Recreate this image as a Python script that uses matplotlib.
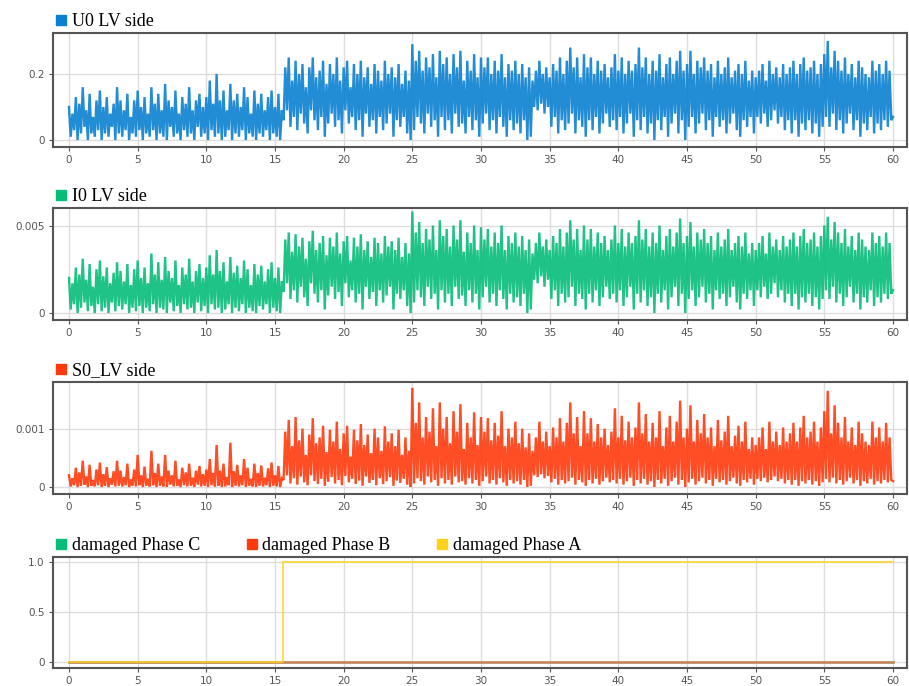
import numpy as np
import matplotlib
matplotlib.use("Agg")
import matplotlib.pyplot as plt
from matplotlib.lines import Line2D

# ---------------- data (sample step 0.125 s, 0 .. 60 s) ----------------
dt = 0.125
U0 = [
    # 0 - 15.5 s
    0.10, 0.01, 0.08, 0.03, 0.13, 0.00, 0.11, 0.02, 0.16, 0.04,
    0.09, 0.00, 0.14, 0.02, 0.07, 0.01, 0.12, 0.03, 0.15, 0.00,
    0.10, 0.02, 0.13, 0.01, 0.08, 0.04, 0.11, 0.00, 0.16, 0.02,
    0.12, 0.01, 0.09, 0.03, 0.14, 0.00, 0.07, 0.02, 0.12, 0.01,
    0.15, 0.03, 0.10, 0.00, 0.13, 0.02, 0.08, 0.01, 0.16, 0.03,
    0.11, 0.00, 0.14, 0.02, 0.09, 0.01, 0.17, 0.00, 0.12, 0.04,
    0.10, 0.01, 0.15, 0.02, 0.08, 0.00, 0.13, 0.03, 0.11, 0.01,
    0.16, 0.02, 0.09, 0.00, 0.12, 0.04, 0.14, 0.01, 0.10, 0.02,
    0.13, 0.00, 0.18, 0.03, 0.11, 0.01, 0.20, 0.02, 0.12, 0.00,
    0.15, 0.01, 0.09, 0.03, 0.17, 0.00, 0.12, 0.02, 0.14, 0.01,
    0.10, 0.03, 0.16, 0.00, 0.13, 0.02, 0.08, 0.01, 0.15, 0.00,
    0.11, 0.02, 0.14, 0.01, 0.09, 0.03, 0.13, 0.00, 0.15, 0.02,
    0.10, 0.01, 0.14, 0.00, 0.09,
    # 15.625 - 25 s
    0.06, 0.22, 0.09, 0.25, 0.04, 0.18, 0.07, 0.24, 0.03, 0.20,
    0.08, 0.23, 0.05, 0.16, 0.02, 0.22, 0.09, 0.25, 0.06, 0.19,
    0.03, 0.21, 0.07, 0.24, 0.01, 0.17, 0.05, 0.23, 0.08, 0.20,
    0.04, 0.25, 0.06, 0.18, 0.02, 0.22, 0.09, 0.24, 0.05, 0.16,
    0.07, 0.23, 0.03, 0.20, 0.06, 0.24, 0.01, 0.19, 0.08, 0.22,
    0.04, 0.17, 0.06, 0.23, 0.02, 0.21, 0.07, 0.18, 0.03, 0.24,
    0.05, 0.20, 0.08, 0.22, 0.01, 0.19, 0.06, 0.23, 0.04, 0.17,
    0.07, 0.21, 0.02, 0.18, 0.00, 0.29,
    # 25.125 - 60 s
    0.03, 0.24, 0.07, 0.27, 0.05, 0.21, 0.02, 0.25, 0.08, 0.22,
    0.04, 0.26, 0.06, 0.19, 0.01, 0.27, 0.07, 0.23, 0.03, 0.25,
    0.06, 0.20, 0.02, 0.26, 0.08, 0.22, 0.04, 0.27, 0.05, 0.18,
    0.02, 0.24, 0.07, 0.21, 0.03, 0.26, 0.06, 0.19, 0.01, 0.25,
    0.05, 0.22, 0.08, 0.25, 0.03, 0.20, 0.06, 0.24, 0.02, 0.21,
    0.07, 0.26, 0.04, 0.19, 0.01, 0.23, 0.06, 0.21, 0.03, 0.24,
    0.05, 0.20, 0.02, 0.23, 0.06, 0.19, 0.00, 0.22, 0.01, 0.18,
    0.10, 0.21, 0.09, 0.24, 0.11, 0.20, 0.08, 0.22, 0.10, 0.19,
    0.04, 0.23, 0.07, 0.21, 0.02, 0.25, 0.06, 0.20, 0.03, 0.24,
    0.05, 0.28, 0.08, 0.22, 0.02, 0.25, 0.06, 0.19, 0.04, 0.26,
    0.01, 0.22, 0.06, 0.25, 0.03, 0.20, 0.07, 0.24, 0.02, 0.21,
    0.05, 0.23, 0.08, 0.19, 0.04, 0.22, 0.06, 0.26, 0.03, 0.21,
    0.07, 0.25, 0.02, 0.20, 0.05, 0.24, 0.08, 0.21, 0.01, 0.23,
    0.06, 0.28, 0.03, 0.22, 0.07, 0.25, 0.02, 0.20, 0.05, 0.24,
    0.00, 0.21, 0.06, 0.26, 0.03, 0.19, 0.07, 0.23, 0.01, 0.25,
    0.05, 0.20, 0.08, 0.24, 0.02, 0.27, 0.06, 0.21, 0.00, 0.23,
    0.04, 0.27, 0.07, 0.20, 0.02, 0.24, 0.05, 0.22, 0.08, 0.25,
    0.03, 0.21, 0.06, 0.23, 0.01, 0.19, 0.07, 0.24, 0.04, 0.20,
    0.06, 0.22, 0.02, 0.25, 0.05, 0.19, 0.08, 0.21, 0.03, 0.23,
    0.01, 0.20, 0.06, 0.24, 0.04, 0.18, 0.07, 0.21, 0.02, 0.19,
    0.07, 0.21, 0.05, 0.23, 0.08, 0.18, 0.04, 0.24, 0.06, 0.20,
    0.09, 0.22, 0.05, 0.19, 0.07, 0.23, 0.03, 0.20, 0.06, 0.22,
    0.02, 0.24, 0.06, 0.20, 0.01, 0.23, 0.05, 0.25, 0.03, 0.21,
    0.06, 0.22, 0.02, 0.24, 0.05, 0.20, 0.01, 0.23, 0.04, 0.26,
    0.07, 0.30, 0.04, 0.22, 0.08, 0.27, 0.03, 0.24, 0.06, 0.21,
    0.02, 0.25, 0.05, 0.20, 0.08, 0.23, 0.03, 0.19, 0.06, 0.24,
    0.01, 0.22, 0.05, 0.20, 0.03, 0.19, 0.07, 0.24, 0.02, 0.21,
    0.05, 0.23, 0.03, 0.20, 0.06, 0.24, 0.04, 0.21, 0.06, 0.07,
]

I0 = [
    0.0020, 0.0002, 0.0017, 0.0005, 0.0026, 0.0000, 0.0022, 0.0003, 0.0031, 0.0006,
    0.0019, 0.0001, 0.0028, 0.0004, 0.0015, 0.0000, 0.0025, 0.0005, 0.0030, 0.0001,
    0.0021, 0.0003, 0.0026, 0.0000, 0.0017, 0.0006, 0.0023, 0.0001, 0.0029, 0.0004,
    0.0024, 0.0002, 0.0018, 0.0005, 0.0028, 0.0000, 0.0016, 0.0003, 0.0025, 0.0001,
    0.0030, 0.0004, 0.0020, 0.0000, 0.0026, 0.0003, 0.0017, 0.0001, 0.0034, 0.0005,
    0.0022, 0.0000, 0.0029, 0.0003, 0.0019, 0.0002, 0.0032, 0.0000, 0.0024, 0.0006,
    0.0020, 0.0001, 0.0030, 0.0004, 0.0016, 0.0000, 0.0026, 0.0005, 0.0022, 0.0002,
    0.0031, 0.0003, 0.0018, 0.0000, 0.0024, 0.0006, 0.0028, 0.0001, 0.0020, 0.0004,
    0.0026, 0.0000, 0.0033, 0.0005, 0.0022, 0.0002, 0.0036, 0.0003, 0.0024, 0.0000,
    0.0029, 0.0002, 0.0018, 0.0005, 0.0032, 0.0000, 0.0023, 0.0003, 0.0027, 0.0001,
    0.0020, 0.0005, 0.0030, 0.0000, 0.0025, 0.0003, 0.0016, 0.0001, 0.0028, 0.0000,
    0.0022, 0.0004, 0.0027, 0.0002, 0.0018, 0.0005, 0.0025, 0.0000, 0.0029, 0.0003,
    0.0020, 0.0001, 0.0026, 0.0000, 0.0018,
    0.0012, 0.0042, 0.0017, 0.0046, 0.0008, 0.0035, 0.0013, 0.0045, 0.0006, 0.0038,
    0.0015, 0.0043, 0.0009, 0.0031, 0.0004, 0.0041, 0.0017, 0.0047, 0.0011, 0.0036,
    0.0006, 0.0040, 0.0013, 0.0044, 0.0002, 0.0033, 0.0010, 0.0043, 0.0015, 0.0038,
    0.0008, 0.0046, 0.0012, 0.0034, 0.0004, 0.0041, 0.0017, 0.0044, 0.0009, 0.0030,
    0.0013, 0.0043, 0.0006, 0.0038, 0.0011, 0.0045, 0.0002, 0.0036, 0.0015, 0.0041,
    0.0008, 0.0032, 0.0012, 0.0043, 0.0004, 0.0040, 0.0013, 0.0034, 0.0006, 0.0044,
    0.0010, 0.0038, 0.0015, 0.0041, 0.0002, 0.0036, 0.0011, 0.0043, 0.0008, 0.0032,
    0.0013, 0.0040, 0.0004, 0.0034, 0.0000, 0.0058,
    0.0006, 0.0046, 0.0013, 0.0052, 0.0009, 0.0040, 0.0004, 0.0048, 0.0015, 0.0042,
    0.0008, 0.0050, 0.0011, 0.0036, 0.0002, 0.0053, 0.0013, 0.0044, 0.0006, 0.0048,
    0.0011, 0.0038, 0.0004, 0.0050, 0.0015, 0.0042, 0.0008, 0.0053, 0.0010, 0.0035,
    0.0004, 0.0046, 0.0013, 0.0040, 0.0006, 0.0050, 0.0011, 0.0036, 0.0002, 0.0049,
    0.0009, 0.0042, 0.0015, 0.0048, 0.0006, 0.0038, 0.0011, 0.0046, 0.0004, 0.0040,
    0.0013, 0.0050, 0.0008, 0.0036, 0.0002, 0.0044, 0.0011, 0.0040, 0.0006, 0.0046,
    0.0009, 0.0038, 0.0004, 0.0044, 0.0011, 0.0036, 0.0000, 0.0042, 0.0002, 0.0034,
    0.0019, 0.0040, 0.0017, 0.0046, 0.0021, 0.0038, 0.0015, 0.0042, 0.0019, 0.0036,
    0.0008, 0.0044, 0.0013, 0.0040, 0.0004, 0.0048, 0.0011, 0.0038, 0.0006, 0.0046,
    0.0009, 0.0053, 0.0015, 0.0042, 0.0004, 0.0048, 0.0011, 0.0036, 0.0008, 0.0050,
    0.0002, 0.0042, 0.0011, 0.0048, 0.0006, 0.0038, 0.0013, 0.0046, 0.0004, 0.0040,
    0.0009, 0.0044, 0.0015, 0.0036, 0.0008, 0.0042, 0.0011, 0.0050, 0.0006, 0.0040,
    0.0013, 0.0048, 0.0004, 0.0038, 0.0009, 0.0046, 0.0015, 0.0040, 0.0002, 0.0044,
    0.0011, 0.0053, 0.0006, 0.0042, 0.0013, 0.0048, 0.0004, 0.0038, 0.0009, 0.0046,
    0.0000, 0.0040, 0.0011, 0.0050, 0.0006, 0.0036, 0.0013, 0.0044, 0.0002, 0.0048,
    0.0009, 0.0038, 0.0015, 0.0046, 0.0004, 0.0054, 0.0011, 0.0040, 0.0000, 0.0044,
    0.0008, 0.0052, 0.0013, 0.0038, 0.0004, 0.0046, 0.0009, 0.0042, 0.0015, 0.0048,
    0.0006, 0.0040, 0.0011, 0.0044, 0.0002, 0.0036, 0.0013, 0.0046, 0.0008, 0.0038,
    0.0011, 0.0042, 0.0004, 0.0048, 0.0009, 0.0036, 0.0015, 0.0040, 0.0006, 0.0044,
    0.0002, 0.0038, 0.0011, 0.0046, 0.0008, 0.0034, 0.0013, 0.0040, 0.0004, 0.0036,
    0.0013, 0.0040, 0.0009, 0.0044, 0.0015, 0.0034, 0.0008, 0.0046, 0.0011, 0.0038,
    0.0017, 0.0042, 0.0009, 0.0036, 0.0013, 0.0044, 0.0006, 0.0038, 0.0011, 0.0042,
    0.0004, 0.0046, 0.0011, 0.0038, 0.0002, 0.0044, 0.0009, 0.0048, 0.0006, 0.0040,
    0.0011, 0.0042, 0.0004, 0.0046, 0.0009, 0.0038, 0.0002, 0.0044, 0.0008, 0.0050,
    0.0013, 0.0055, 0.0008, 0.0042, 0.0015, 0.0052, 0.0006, 0.0046, 0.0011, 0.0040,
    0.0004, 0.0048, 0.0009, 0.0038, 0.0015, 0.0044, 0.0006, 0.0036, 0.0011, 0.0046,
    0.0002, 0.0042, 0.0009, 0.0038, 0.0006, 0.0036, 0.0013, 0.0046, 0.0004, 0.0040,
    0.0009, 0.0044, 0.0006, 0.0038, 0.0011, 0.0046, 0.0008, 0.0040, 0.0011, 0.0013,
]

S0 = [
    0.00020, 0.00001, 0.00015, 0.00003, 0.00033, 0.00000, 0.00025, 0.00002, 0.00045, 0.00004,
    0.00018, 0.00000, 0.00038, 0.00002, 0.00012, 0.00001, 0.00030, 0.00003, 0.00042, 0.00000,
    0.00022, 0.00002, 0.00034, 0.00000, 0.00015, 0.00004, 0.00027, 0.00001, 0.00045, 0.00002,
    0.00028, 0.00001, 0.00017, 0.00003, 0.00040, 0.00000, 0.00013, 0.00002, 0.00030, 0.00001,
    0.00055, 0.00003, 0.00020, 0.00000, 0.00035, 0.00002, 0.00014, 0.00001, 0.00062, 0.00003,
    0.00024, 0.00000, 0.00040, 0.00002, 0.00018, 0.00001, 0.00055, 0.00000, 0.00028, 0.00004,
    0.00020, 0.00001, 0.00045, 0.00002, 0.00013, 0.00000, 0.00033, 0.00003, 0.00025, 0.00001,
    0.00040, 0.00002, 0.00016, 0.00000, 0.00028, 0.00004, 0.00036, 0.00001, 0.00022, 0.00002,
    0.00030, 0.00000, 0.00048, 0.00003, 0.00024, 0.00001, 0.00072, 0.00002, 0.00028, 0.00000,
    0.00040, 0.00001, 0.00017, 0.00003, 0.00076, 0.00000, 0.00027, 0.00002, 0.00038, 0.00001,
    0.00020, 0.00003, 0.00048, 0.00000, 0.00033, 0.00002, 0.00014, 0.00001, 0.00040, 0.00000,
    0.00024, 0.00002, 0.00037, 0.00001, 0.00016, 0.00003, 0.00032, 0.00000, 0.00042, 0.00002,
    0.00020, 0.00001, 0.00036, 0.00000, 0.00015,
    0.00012, 0.00095, 0.00020, 0.00115, 0.00006, 0.00070, 0.00015, 0.00120, 0.00004, 0.00080,
    0.00018, 0.00100, 0.00008, 0.00055, 0.00003, 0.00090, 0.00020, 0.00118, 0.00010, 0.00075,
    0.00005, 0.00085, 0.00014, 0.00105, 0.00002, 0.00060, 0.00009, 0.00098, 0.00017, 0.00078,
    0.00006, 0.00112, 0.00012, 0.00065, 0.00003, 0.00092, 0.00019, 0.00105, 0.00008, 0.00052,
    0.00014, 0.00098, 0.00005, 0.00080, 0.00011, 0.00108, 0.00002, 0.00072, 0.00018, 0.00090,
    0.00007, 0.00058, 0.00012, 0.00100, 0.00003, 0.00085, 0.00015, 0.00062, 0.00005, 0.00104,
    0.00010, 0.00078, 0.00017, 0.00092, 0.00002, 0.00070, 0.00011, 0.00098, 0.00007, 0.00055,
    0.00014, 0.00085, 0.00004, 0.00062, 0.00000, 0.00170,
    0.00006, 0.00110, 0.00015, 0.00145, 0.00010, 0.00085, 0.00004, 0.00120, 0.00018, 0.00095,
    0.00008, 0.00135, 0.00012, 0.00070, 0.00002, 0.00145, 0.00015, 0.00100, 0.00006, 0.00120,
    0.00012, 0.00075, 0.00004, 0.00130, 0.00018, 0.00095, 0.00008, 0.00142, 0.00010, 0.00065,
    0.00004, 0.00110, 0.00015, 0.00085, 0.00006, 0.00128, 0.00012, 0.00072, 0.00002, 0.00120,
    0.00010, 0.00095, 0.00018, 0.00118, 0.00006, 0.00080, 0.00012, 0.00110, 0.00004, 0.00088,
    0.00015, 0.00130, 0.00008, 0.00070, 0.00002, 0.00100, 0.00012, 0.00085, 0.00006, 0.00112,
    0.00010, 0.00075, 0.00004, 0.00100, 0.00012, 0.00068, 0.00000, 0.00092, 0.00002, 0.00062,
    0.00020, 0.00085, 0.00017, 0.00112, 0.00022, 0.00078, 0.00015, 0.00095, 0.00019, 0.00070,
    0.00008, 0.00102, 0.00014, 0.00085, 0.00004, 0.00118, 0.00012, 0.00078, 0.00006, 0.00110,
    0.00010, 0.00145, 0.00016, 0.00092, 0.00004, 0.00120, 0.00012, 0.00070, 0.00008, 0.00130,
    0.00002, 0.00092, 0.00012, 0.00118, 0.00006, 0.00078, 0.00014, 0.00108, 0.00004, 0.00085,
    0.00010, 0.00100, 0.00016, 0.00072, 0.00008, 0.00095, 0.00012, 0.00135, 0.00006, 0.00085,
    0.00014, 0.00122, 0.00004, 0.00080, 0.00010, 0.00112, 0.00016, 0.00085, 0.00002, 0.00102,
    0.00012, 0.00145, 0.00006, 0.00092, 0.00014, 0.00125, 0.00004, 0.00078, 0.00010, 0.00110,
    0.00000, 0.00085, 0.00012, 0.00130, 0.00006, 0.00070, 0.00014, 0.00102, 0.00002, 0.00122,
    0.00010, 0.00078, 0.00016, 0.00112, 0.00004, 0.00148, 0.00012, 0.00085, 0.00000, 0.00100,
    0.00008, 0.00140, 0.00014, 0.00078, 0.00004, 0.00115, 0.00010, 0.00092, 0.00016, 0.00125,
    0.00006, 0.00085, 0.00012, 0.00102, 0.00002, 0.00070, 0.00014, 0.00115, 0.00008, 0.00080,
    0.00012, 0.00095, 0.00004, 0.00122, 0.00010, 0.00070, 0.00016, 0.00088, 0.00006, 0.00105,
    0.00002, 0.00078, 0.00012, 0.00112, 0.00008, 0.00065, 0.00014, 0.00085, 0.00004, 0.00072,
    0.00014, 0.00085, 0.00010, 0.00102, 0.00016, 0.00065, 0.00008, 0.00112, 0.00012, 0.00078,
    0.00018, 0.00095, 0.00010, 0.00072, 0.00014, 0.00102, 0.00006, 0.00078, 0.00012, 0.00092,
    0.00004, 0.00110, 0.00012, 0.00078, 0.00002, 0.00102, 0.00010, 0.00122, 0.00006, 0.00085,
    0.00012, 0.00095, 0.00004, 0.00112, 0.00010, 0.00078, 0.00002, 0.00102, 0.00008, 0.00130,
    0.00014, 0.00165, 0.00008, 0.00092, 0.00016, 0.00140, 0.00006, 0.00110, 0.00012, 0.00085,
    0.00004, 0.00120, 0.00010, 0.00078, 0.00016, 0.00102, 0.00006, 0.00072, 0.00012, 0.00112,
    0.00002, 0.00092, 0.00010, 0.00078, 0.00006, 0.00072, 0.00014, 0.00112, 0.00004, 0.00085,
    0.00010, 0.00102, 0.00006, 0.00078, 0.00012, 0.00110, 0.00008, 0.00085, 0.00012, 0.00010,
]

phase_t = [0.0, 15.6, 60.0]
phase_C = [0, 0, 0]
phase_B = [0, 0, 0]
phase_A = [0, 1, 1]

titles = ["U0 LV side", "I0 LV side", "S0_LV side"]
phase_labels = ["damaged Phase C", "damaged Phase B", "damaged Phase A"]
colors = ["#0a80d0", "#06bd78", "#ff3a0d"]
phase_colors = ["#06bd78", "#ff3a0d", "#ffd21a"]
yticks = [[0, 0.2], [0, 0.005], [0, 0.001], [0, 0.5, 1.0]]
yticklabels = [["0", "0.2"], ["0", "0.005"], ["0", "0.001"], ["0", "0.5", "1.0"]]
ylims = [(-0.021, 0.324), (-0.0004, 0.0060), (-0.00012, 0.0018), (-0.06, 1.05)]
xticks = list(range(0, 61, 5))

# ---------------- figure ----------------
W, H = 909, 686
fig = plt.figure(figsize=(W / 100, H / 100), dpi=100)
boxes = [(33, 147), (208, 320), (382, 494), (557, 668)]
left_px, right_px = 53, 907

serif = ["Liberation Serif", "DejaVu Serif"]
axes = []
for (top, bot) in boxes:
    ax = fig.add_axes([left_px / W, 1 - bot / H, (right_px - left_px) / W, (bot - top) / H])
    axes.append(ax)

series = [U0, I0, S0]
for i in range(3):
    tt = np.arange(len(series[i])) * dt
    axes[i].plot(tt, series[i], color=colors[i], lw=1.7, alpha=0.9, zorder=3,
                 solid_joinstyle="miter")

ax = axes[3]
ax.plot(phase_t, phase_C, drawstyle="steps-post", color=phase_colors[0], lw=1.8, alpha=0.6, zorder=3)
ax.plot(phase_t, phase_B, drawstyle="steps-post", color="#f06a40", lw=1.8, alpha=0.75, zorder=4)
ax.plot(phase_t, phase_A, drawstyle="steps-post", color=phase_colors[2], lw=1.4, alpha=0.75, zorder=5)

for i, ax in enumerate(axes):
    ax.set_xlim(-1.165, 61.02)
    ax.set_ylim(*ylims[i])
    ax.set_xticks(xticks)
    ax.set_xticklabels([str(v) for v in xticks])
    ax.set_yticks(yticks[i])
    ax.set_yticklabels(yticklabels[i])
    ax.grid(True, color="#dddddd", lw=1.0, zorder=0)
    ax.set_axisbelow(True)
    ax.tick_params(axis="both", labelsize=7.5, colors="#555555", length=3, width=0.8,
                   direction="out", pad=3)
    for s in ax.spines.values():
        s.set_color("#555555")
        s.set_linewidth(1.5)

legend_kw = dict(loc="lower left", bbox_to_anchor=(0.0, 1.0), frameon=False,
                 borderaxespad=0.1, borderpad=0.05, handletextpad=0.3,
                 handlelength=0.6, prop={"family": serif, "size": 13})

for i in range(3):
    h = [Line2D([], [], marker="s", linestyle="none", color=colors[i], markersize=6.5)]
    axes[i].legend(h, [titles[i]], **legend_kw)

h = [Line2D([], [], marker="s", linestyle="none", color=c, markersize=6.5) for c in phase_colors]
axes[3].legend(h, phase_labels, ncol=3, columnspacing=2.55, **legend_kw)

fig.savefig("out.png", dpi=100, facecolor="white")
